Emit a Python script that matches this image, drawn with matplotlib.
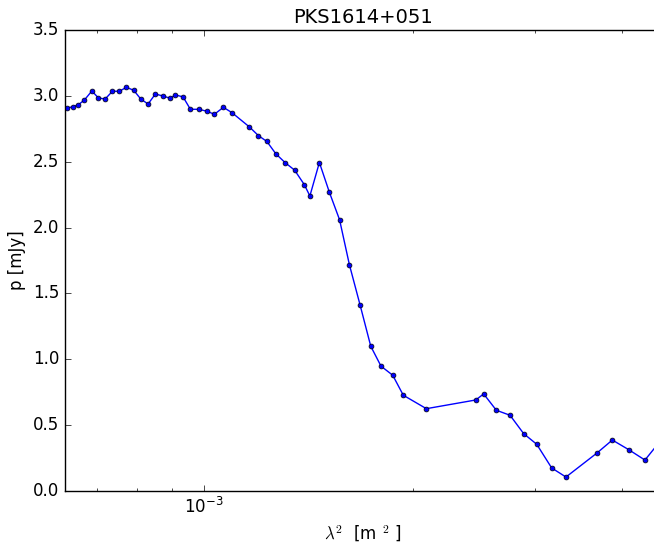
import numpy as np
import matplotlib
matplotlib.use('Agg')
from matplotlib import pyplot as plt
from matplotlib.ticker import NullFormatter, MultipleLocator

plt.style.use('classic')

# lambda^2 in units of 1e-3 m^2, polarized flux in mJy
lam2_e3 = [0.6342, 0.6469, 0.6591, 0.6723, 0.6891, 0.7043, 0.7201, 0.7378, 0.7551, 0.7727,
           0.7919, 0.8105, 0.8304, 0.8507, 0.8721, 0.8934, 0.9092, 0.9327, 0.9556, 0.9826,
           1.0100, 1.0347, 1.0662, 1.0973, 1.1624, 1.1977, 1.2316, 1.2690, 1.3087, 1.3505,
           1.3947, 1.4207, 1.4662, 1.5157, 1.5679, 1.6198, 1.6783, 1.7388, 1.7989, 1.8702,
           1.9372, 2.0913, 2.4634, 2.5293, 2.6380, 2.7605, 2.8889, 3.0160, 3.1696, 3.3236,
           3.6850, 3.8764, 4.0926, 4.3195, 4.6930]
pol = [2.906, 2.918, 2.933, 2.969, 3.037, 2.984, 2.976, 3.035, 3.035, 3.065,
       3.042, 2.976, 2.938, 3.014, 2.999, 2.982, 3.007, 2.992, 2.898, 2.898,
       2.883, 2.860, 2.913, 2.872, 2.764, 2.698, 2.654, 2.560, 2.493, 2.436,
       2.326, 2.240, 2.494, 2.268, 2.059, 1.718, 1.412, 1.099, 0.948, 0.879,
       0.727, 0.625, 0.691, 0.737, 0.613, 0.575, 0.435, 0.355, 0.175, 0.106,
       0.289, 0.387, 0.314, 0.235, 0.470]

lam2 = np.array(lam2_e3) * 1e-3

fig = plt.figure(figsize=(6.54, 5.51), dpi=100, facecolor='white')
# the axes run slightly past the right edge of the canvas
ax = fig.add_axes([65/654, 60/551, 596/654, 461/551])

ax.plot(lam2, pol, 'b.-', markeredgecolor='k', markersize=7, linewidth=1)
ax.set_xscale('log')
ax.set_xlim(6.303e-4, 4.556e-3)
ax.set_ylim(0, 3.5)
ax.yaxis.set_major_locator(MultipleLocator(0.5))
ax.xaxis.set_minor_formatter(NullFormatter())

ax.set_title('PKS1614+051', fontsize=14)
ax.set_xlabel(r'$\lambda^2$  [m $^2$ ]')
ax.set_ylabel('p [mJy]')

fig.savefig('out.png', dpi=100, facecolor='white')
